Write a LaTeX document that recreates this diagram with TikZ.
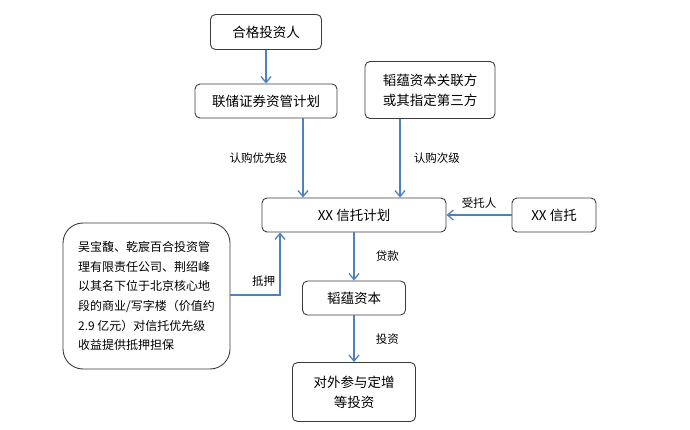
\documentclass[tikz,border=0pt]{standalone}
\usepackage{fontspec}
\setmainfont{Noto Sans CJK SC}
\usetikzlibrary{arrows.meta}
\definecolor{arrowblue}{RGB}{79,129,189}
\definecolor{boxline}{RGB}{60,60,60}
\begin{document}
\begin{tikzpicture}[
			x=1pt, y=-1pt,
			box/.style={draw=boxline, line width=0.9pt, rounded corners=5pt, align=center,
					font=\fontsize{13.5}{20}\selectfont},
			flow/.style={draw=arrowblue, line width=1.3pt, -{Straight Barb[length=6pt,width=10pt]}},
			lbl/.style={font=\fontsize{11.5}{13}\selectfont}
		]
		\useasboundingbox (0,0) rectangle (690,430);
		\node[box, minimum width=111pt, minimum height=35pt] (investor) at (266,32) {合格投资人};
		\node[box, minimum width=142pt, minimum height=34pt] (assetplan) at (266,101) {联储证券资管计划};
		\node[box, minimum width=130pt, minimum height=57pt] (relparty) at (430,90) {韬蕴资本关联方\\或其指定第三方};
		\node[box, minimum width=184pt, minimum height=34pt] (trustplan) at (354,215) {XX 信托计划};
		\node[box, minimum width=84pt, minimum height=34pt] (trust) at (554,215) {XX 信托};
		\node[box, minimum width=103pt, minimum height=34pt] (capital) at (354,298) {韬蕴资本};
		\node[box, minimum width=123pt, minimum height=59pt] (invest) at (354,392) {对外参与定增\\等投资};
		\node[box, rounded corners=20pt, minimum width=167pt, minimum height=146pt, align=left,
			font=\fontsize{12}{19.7}\selectfont] (collateral) at (146.5,296) {吴宝馥、乾宸百合投资管\\理有限责任公司、荆绍峰\\以其名下位于北京核心地\\段的商业/写字楼（价值约\\2.9 亿元）对信托优先级\\收益提供抵押担保};

		\draw[flow] (investor) -- (assetplan);
		\draw[flow] ([xshift=37pt]assetplan.south) -- node[lbl, left=12pt] {认购优先级} ([xshift=37pt]assetplan.south |- trustplan.north);
		\draw[flow] ([xshift=-30pt]relparty.south) -- node[lbl, right=10pt] {认购次级} ([xshift=-30pt]relparty.south |- trustplan.north);
		\draw[flow] (trust.west) -- node[lbl, above=3pt] {受托人} (trustplan.east);
		\draw[flow] (trustplan.south) -- node[lbl, right=18pt] {贷款} (capital.north);
		\draw[flow] (capital.south) -- node[lbl, right=18pt] {投资} (invest.north);
		\draw[flow] ([yshift=1pt]collateral.east) -| node[lbl, pos=0.61, left=1pt] {抵押} ([xshift=-74pt]trustplan.south);
	\end{tikzpicture}
\end{document}
